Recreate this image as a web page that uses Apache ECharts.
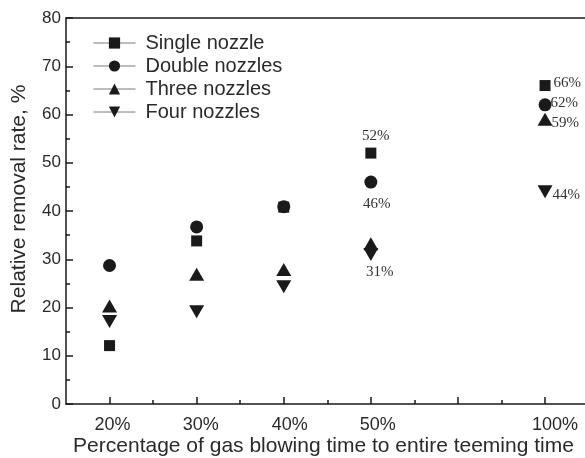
<!DOCTYPE html>
<html>
<head>
<meta charset="utf-8">
<script src="https://cdn.jsdelivr.net/npm/echarts@6/dist/echarts.min.js"></script>
<style>
  html, body { margin: 0; padding: 0; background: #fff; }
  #chart { width: 585px; height: 458px; }
</style>
</head>
<body>
<div id="chart"></div>
<script>
// Blowing-time groups: axis position of each group and its tick label
const groupPositions = [20, 30, 40, 50, 70];
const groupLabels = ['20%', '30%', '40%', '50%', '100%'];

// Relative removal rate (%) for each nozzle arrangement
const seriesNames = ['Single nozzle', 'Double nozzles', 'Three nozzles', 'Four nozzles'];
const singleNozzle = [12.1, 33.8, 40.8, 52, 66];
const doubleNozzles = [28.7, 36.7, 40.9, 46, 62];
const threeNozzles = [20.3, 26.9, 27.9, 33.2, 59];
const fourNozzles = [17.1, 19.1, 24.3, 31, 44];

// Y axis ticks
const yTicks = [0, 10, 20, 30, 40, 50, 60, 70, 80];

const values = [singleNozzle, doubleNozzles, threeNozzles, fourNozzles];
const symbols = ['rect', 'circle', 'triangle', 'triangle'];
const symbolRotations = [0, 0, 0, 180];
const symbolSizes = [11, 13, [15, 13], [15, 13]];

// Value annotations: series index -> group index -> label placement
const annotated = {
  0: { 3: { position: 'top', distance: 4, offset: [5, 0] },
       4: { position: 'right', distance: 3, offset: [0, -2] } },
  1: { 3: { position: 'bottom', distance: 8, offset: [6, 0] },
       4: { position: 'right', distance: -1, offset: [0, -2] } },
  2: { 4: { position: 'right', distance: -1, offset: [0, 4] } },
  3: { 3: { position: 'bottom', distance: 4, offset: [9, 0] },
       4: { position: 'right', distance: 0, offset: [0, 3] } }
};

// Small horizontal nudges of the group tick labels
const labelShift = [6, 8, 12, 14, 20];

// Horizontal scale: the plot starts at x = 15, group ticks run from 20 to 70,
// and the frame continues past the right edge of the canvas.
const xMin = 15;
const tickMin = 20;
const tickMax = 70;
const pxPerUnit = 8.71;

const ink = '#1a1a1a';
const textColor = '#2a2a2a';

// Pixel geometry of the plot area
const plotLeft = 66, plotRight = -12, plotTop = 18, plotBottom = 54;
const xMax = xMin + (585 - plotLeft - plotRight) / pxPerUnit;
const tickGridLeft = plotLeft + (tickMin - xMin) * pxPerUnit;
const tickGridRight = 585 - (plotLeft + (tickMax - xMin) * pxPerUnit);

const series = values.map(function (vals, si) {
  return {
    name: seriesNames[si],
    type: 'line',
    xAxisIndex: 0,
    yAxisIndex: 0,
    symbol: symbols[si],
    symbolRotate: symbolRotations[si],
    symbolSize: symbolSizes[si],
    showSymbol: true,
    lineStyle: { opacity: 0, width: 0 },
    itemStyle: { color: ink },
    emphasis: { disabled: true },
    z: 2 + si,
    data: vals.map(function (v, gi) {
      const item = { value: [groupPositions[gi], v] };
      const spec = annotated[si] && annotated[si][gi];
      if (spec) {
        item.label = {
          show: true,
          position: spec.position,
          distance: spec.distance,
          offset: spec.offset,
          formatter: function (p) { return p.value[1] + '%'; },
          fontFamily: 'Liberation Serif',
          fontSize: 15,
          color: '#333'
        };
      }
      return item;
    })
  };
});

const rich = {};
labelShift.forEach(function (s, i) {
  rich['s' + i] = {
    fontFamily: 'Liberation Sans',
    fontSize: 18,
    color: textColor,
    padding: [0, 0, 0, s]
  };
});

const option = {
  backgroundColor: '#ffffff',
  animation: false,
  legend: {
    orient: 'vertical',
    left: 93,
    top: 33,
    padding: 0,
    itemWidth: 42,
    itemHeight: 14,
    itemGap: 3,
    data: seriesNames,
    lineStyle: { color: '#7a7a7a', width: 1, opacity: 1 },
    textStyle: {
      fontFamily: 'Liberation Sans',
      fontSize: 20,
      color: textColor,
      padding: [0, 0, 0, 5]
    }
  },
  grid: [
    { left: plotLeft, top: plotTop, bottom: plotBottom, right: plotRight,
      outerBoundsMode: 'none', containLabel: false },
    { left: tickGridLeft, top: plotTop, bottom: plotBottom, right: tickGridRight,
      outerBoundsMode: 'none', containLabel: false }
  ],
  xAxis: [
    {
      gridIndex: 0,
      type: 'value',
      min: xMin,
      max: xMax,
      axisLine: { show: true, lineStyle: { color: ink, width: 1.5 } },
      axisTick: { show: false },
      axisLabel: { show: false },
      splitLine: { show: false },
      name: 'Percentage of gas blowing time to entire teeming time',
      nameLocation: 'middle',
      nameGap: 32,
      nameTextStyle: {
        fontFamily: 'Liberation Sans',
        fontSize: 21,
        color: textColor,
        // keeps the title centred under the visible part of the frame
        padding: [0, 4 - plotRight, 0, 0]
      }
    },
    {
      gridIndex: 1,
      type: 'value',
      min: tickMin,
      max: tickMax,
      interval: 10,
      axisLine: { show: false },
      axisTick: { show: true, inside: true, length: 7, lineStyle: { color: ink, width: 1.5 } },
      minorTick: { show: true, splitNumber: 2, length: 4, lineStyle: { color: ink, width: 1.5 } },
      splitLine: { show: false },
      axisLabel: {
        margin: 12,
        formatter: function (v) {
          const i = groupPositions.indexOf(v);
          return i < 0 ? '' : '{s' + i + '|' + groupLabels[i] + '}';
        },
        rich: rich
      }
    },
    {
      // top frame line
      gridIndex: 0,
      type: 'value',
      position: 'top',
      min: xMin,
      max: xMax,
      axisLine: { show: true, lineStyle: { color: ink, width: 1.5 } },
      axisTick: { show: false },
      axisLabel: { show: false },
      splitLine: { show: false }
    }
  ],
  yAxis: [
    {
      gridIndex: 0,
      type: 'value',
      min: yTicks[0],
      max: yTicks[yTicks.length - 1],
      interval: yTicks[1] - yTicks[0],
      axisLine: { show: true, lineStyle: { color: ink, width: 1.5 } },
      axisTick: { show: true, inside: true, length: 7, lineStyle: { color: ink, width: 1.5 } },
      minorTick: { show: true, splitNumber: 2, length: 4, lineStyle: { color: ink, width: 1.5 } },
      splitLine: { show: false },
      axisLabel: {
        margin: 5,
        fontFamily: 'Liberation Sans',
        fontSize: 17,
        color: textColor
      },
      name: 'Relative removal rate, %',
      nameLocation: 'middle',
      nameRotate: 90,
      nameGap: 36,
      nameTextStyle: {
        fontFamily: 'Liberation Sans',
        fontSize: 21,
        color: textColor,
        padding: [0, 0, 0, 24]
      }
    },
    {
      gridIndex: 1,
      type: 'value',
      min: 0,
      max: 80,
      show: false
    }
  ],
  series: series
};

const chart = echarts.init(document.getElementById('chart'), null, { renderer: 'canvas' });
chart.setOption(option);
</script>
</body>
</html>
